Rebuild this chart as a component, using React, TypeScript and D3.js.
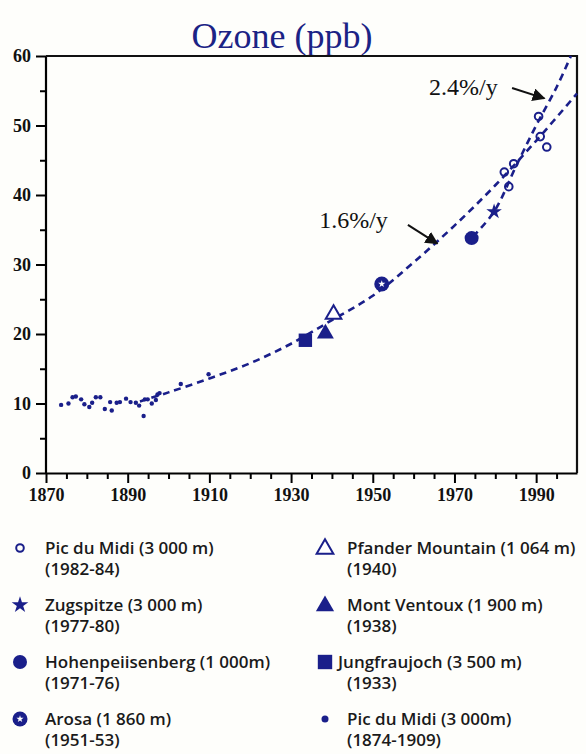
import { useEffect, useRef } from 'react';
import * as d3 from 'd3';

// Pic du Midi 1874-1909 (small dots)
const earlyYears = [
  1873.7, 1875.5, 1876.5, 1877.3, 1878.6, 1879.4, 1880.6, 1881.3, 1882.2, 1883.3, 1884.4, 1885.7,
  1886.1, 1887.3, 1888.1, 1889.6, 1890.7, 1892.0, 1892.8, 1893.9, 1894.2, 1894.9, 1895.9, 1896.9,
  1897.3, 1897.8, 1903.0, 1909.8,
];
const earlyValues = [
  9.8, 10.0, 10.9, 11.0, 10.6, 9.9, 9.5, 10.1, 10.9, 10.9, 9.2, 10.2, 9.0, 10.1, 10.2, 10.7, 10.2,
  10.1, 9.7, 8.2, 10.6, 10.6, 10.0, 10.5, 11.3, 11.5, 12.8, 14.2,
];
// Pic du Midi 1982-84 (open circles)
const picYears = [1982.2, 1983.3, 1984.5, 1990.6, 1991.0, 1992.6];
const picValues = [43.3, 41.2, 44.5, 51.3, 48.4, 46.9];
const zugYears = [1979.7];
const zugValues = [37.6];
const hohenYears = [1974.2];
const hohenValues = [33.8];
const arosaYears = [1952.2];
const arosaValues = [27.2];
const pfanderYears = [1940.4];
const pfanderValues = [23.0];
const ventouxYears = [1938.4];
const ventouxValues = [20.2];
const jungYears = [1933.5];
const jungValues = [19.1];

// fitted trends
const fitLowYears = [1893, 1900, 1910, 1920, 1930, 1940, 1950, 1960, 1970, 1980, 1990, 2000];
const fitLowValues = [10.3, 11.6, 13.6, 15.8, 18.6, 22.0, 25.5, 30.3, 35.6, 41.4, 47.8, 54.6];
const fitHighYears = [1974.5, 1979.7, 1985.2, 1990, 1995, 1998.5];
const fitHighValues = [34.0, 37.6, 44.3, 50.0, 55.5, 60.0];

const xLabels = [1870, 1890, 1910, 1930, 1950, 1970, 1990];
const yLabels = [0, 10, 20, 30, 40, 50, 60];

const legendLeft = [
  ['Pic du Midi (3 000 m)', '(1982-84)', 'openCircle'],
  ['Zugspitze (3 000 m)', '(1977-80)', 'star'],
  ['Hohenpeiisenberg (1 000m)', '(1971-76)', 'circle'],
  ['Arosa (1 860 m)', '(1951-53)', 'arosa'],
];
const legendRight = [
  ['Pfander Mountain (1 064 m)', '(1940)', 'openTriangle'],
  ['Mont Ventoux (1 900 m)', '(1938)', 'triangle'],
  ['Jungfraujoch (3 500 m)', '(1933)', 'square'],
  ['Pic du Midi (3 000m)', '(1874-1909)', 'dot'],
];

const NAVY = '#1a1f8a';

const App = () => {
  const ref = useRef<SVGSVGElement>(null!);

  useEffect(() => {
    const width = 586;
    const height = 754;
    const m = { left: 46, right: 577, top: 56, bottom: 473 };
    const svg = d3.select(ref.current);
    svg.selectAll('*').remove();
    svg.attr('width', width).attr('height', height);
    svg.append('rect').attr('width', width).attr('height', height).attr('fill', '#fefefb');

    const x = d3.scaleLinear().domain([1870, 2000]).range([m.left, m.right]);
    const y = d3.scaleLinear().domain([0, 60]).range([m.bottom, m.top]);

    // title
    svg
      .append('text')
      .attr('x', 282)
      .attr('y', 48)
      .attr('text-anchor', 'middle')
      .attr('font-family', 'Liberation Serif')
      .attr('font-size', 36)
      .attr('fill', '#1b2385')
      .text('Ozone (ppb)');

    // x axis
    const xAxis = d3
      .axisBottom(x)
      .tickValues(d3.range(1870, 1996, 5))
      .tickSizeOuter(0)
      .tickPadding(4)
      .tickFormat(d => (xLabels.includes(+d) ? String(d) : ''));
    const gx = svg.append('g').attr('transform', `translate(0,${m.bottom})`).call(xAxis);
    gx.selectAll('line')
      .attr('y2', (d: any) => (xLabels.includes(+d) ? 10 : 6))
      .attr('stroke-width', 2);
    gx.select('.domain').attr('stroke-width', 2.2);
    gx.selectAll('text')
      .attr('font-family', 'Liberation Serif')
      .attr('font-size', 18)
      .attr('font-weight', 'bold')
      .attr('fill', '#111')
      .attr('dy', '1.0em');

    // y axis
    const yAxis = d3
      .axisLeft(y)
      .tickValues(d3.range(0, 61, 5))
      .tickSizeOuter(0)
      .tickPadding(5)
      .tickFormat(d => (yLabels.includes(+d) ? String(d) : ''));
    const gy = svg.append('g').attr('transform', `translate(${m.left},0)`).call(yAxis);
    gy.selectAll('line')
      .attr('x2', (d: any) => (yLabels.includes(+d) ? -10 : -6))
      .attr('stroke-width', 2);
    gy.selectAll('text')
      .attr('x', -15)
      .attr('font-family', 'Liberation Serif')
      .attr('font-size', 18)
      .attr('font-weight', 'bold')
      .attr('fill', '#111');
    gy.select('.domain').remove();
    svg
      .append('line')
      .attr('x1', m.left)
      .attr('x2', m.left)
      .attr('y1', m.top)
      .attr('y2', m.bottom)
      .attr('stroke', '#000')
      .attr('stroke-width', 2.2);

    // frame top / right
    svg
      .append('path')
      .attr('d', `M${m.left},${m.top}H${m.right}V${m.bottom}`)
      .attr('fill', 'none')
      .attr('stroke', '#111')
      .attr('stroke-width', 2.2);

    // trend curves
    const line = d3
      .line<[number, number]>()
      .x(d => x(d[0]))
      .y(d => y(d[1]))
      .curve(d3.curveCatmullRom);
    const lowPts = fitLowYears.map((t, i) => [t, fitLowValues[i]] as [number, number]);
    const highPts = fitHighYears.map((t, i) => [t, fitHighValues[i]] as [number, number]);
    [lowPts, highPts].forEach(pts => {
      svg
        .append('path')
        .attr('d', line(pts))
        .attr('fill', 'none')
        .attr('stroke', NAVY)
        .attr('stroke-width', 2.6)
        .attr('stroke-dasharray', '7,5');
    });

    // markers
    const sym = (type: d3.SymbolType, size: number) => d3.symbol().type(type).size(size)();
    const drawMarker = (g: any, kind: string, legend = false) => {
      const k = legend ? 1.15 : 1;
      if (kind === 'dot') g.append('circle').attr('r', legend ? 3.5 : 2.2).attr('fill', NAVY);
      if (kind === 'openCircle')
        g.append('circle').attr('r', 3.8).attr('fill', 'none').attr('stroke', NAVY).attr('stroke-width', 2);
      if (kind === 'circle') g.append('circle').attr('r', 7).attr('fill', NAVY);
      if (kind === 'star') g.append('path').attr('d', sym(d3.symbolStar, 75 * k)).attr('fill', NAVY);
      if (kind === 'arosa') {
        g.append('circle').attr('r', 7.5).attr('fill', NAVY);
        g.append('path').attr('d', sym(d3.symbolStar, 16)).attr('fill', '#fff');
      }
      if (kind === 'openTriangle')
        g.append('path')
          .attr('d', sym(d3.symbolTriangle, 105 * k))
          .attr('transform', 'translate(0,1)')
          .attr('fill', '#fff')
          .attr('stroke', NAVY)
          .attr('stroke-width', 2);
      if (kind === 'triangle')
        g.append('path').attr('d', sym(d3.symbolTriangle, 125 * k)).attr('transform', 'translate(0,1)').attr('fill', NAVY);
      if (kind === 'square') g.append('path').attr('d', sym(d3.symbolSquare, 180 * k)).attr('fill', NAVY);
    };

    const series: [number[], number[], string][] = [
      [earlyYears, earlyValues, 'dot'],
      [jungYears, jungValues, 'square'],
      [ventouxYears, ventouxValues, 'triangle'],
      [pfanderYears, pfanderValues, 'openTriangle'],
      [arosaYears, arosaValues, 'arosa'],
      [hohenYears, hohenValues, 'circle'],
      [zugYears, zugValues, 'star'],
      [picYears, picValues, 'openCircle'],
    ];
    series.forEach(([ts, vs, kind]) => {
      ts.forEach((t, i) => {
        const g = svg.append('g').attr('transform', `translate(${x(t)},${y(vs[i])})`);
        drawMarker(g, kind);
      });
    });

    // annotations
    const defs = svg.append('defs');
    defs
      .append('marker')
      .attr('id', 'arr')
      .attr('viewBox', '0 0 10 10')
      .attr('refX', 9)
      .attr('refY', 5)
      .attr('markerWidth', 6.5)
      .attr('markerHeight', 6.5)
      .attr('orient', 'auto')
      .attr('markerUnits', 'strokeWidth')
      .append('path')
      .attr('d', 'M0,0L10,5L0,10Z')
      .attr('fill', '#111');
    const notes: [string, number, number, number, number, number, number][] = [
      ['2.4%/y', 1980.6, 54.4, 1984.1, 55.4, 1992.0, 53.9],
      ['1.6%/y', 1953.7, 35.3, 1958.6, 35.7, 1965.8, 33.0],
    ];
    notes.forEach(([label, tx, ty, ax1, ay1, ax2, ay2]) => {
      svg
        .append('text')
        .attr('x', x(tx))
        .attr('y', y(ty))
        .attr('text-anchor', 'end')
        .attr('font-family', 'Liberation Serif')
        .attr('font-size', 24)
        .attr('fill', '#111')
        .text(label);
      svg
        .append('line')
        .attr('x1', x(ax1))
        .attr('y1', y(ay1))
        .attr('x2', x(ax2))
        .attr('y2', y(ay2))
        .attr('stroke', '#111')
        .attr('stroke-width', 2)
        .attr('marker-end', 'url(#arr)');
    });

    // legend
    const cols: [typeof legendLeft, number, number][] = [
      [legendLeft, 20, 45],
      [legendRight, 325, 347],
    ];
    cols.forEach(([items, ix, tx]) => {
      items.forEach(([name, years, kind], i) => {
        const cy = 548 + i * 57;
        const g = svg.append('g').attr('transform', `translate(${ix},${cy})`);
        drawMarker(g, kind, true);
        const txt = svg
          .append('text')
          .attr('font-family', 'Open Sans')
          .attr('font-weight', 600)
          .attr('font-size', 17)
          .attr('fill', '#1a1a1a');
        txt.append('tspan').attr('x', kind === 'square' ? tx - 9 : tx).attr('y', cy + 6).text(name);
        txt.append('tspan').attr('x', tx).attr('y', cy + 27).text(years);
      });
    });
  }, []);

  return <svg ref={ref} style={{ position: 'absolute', left: 0, top: 0 }}></svg>;
};

export default App;
